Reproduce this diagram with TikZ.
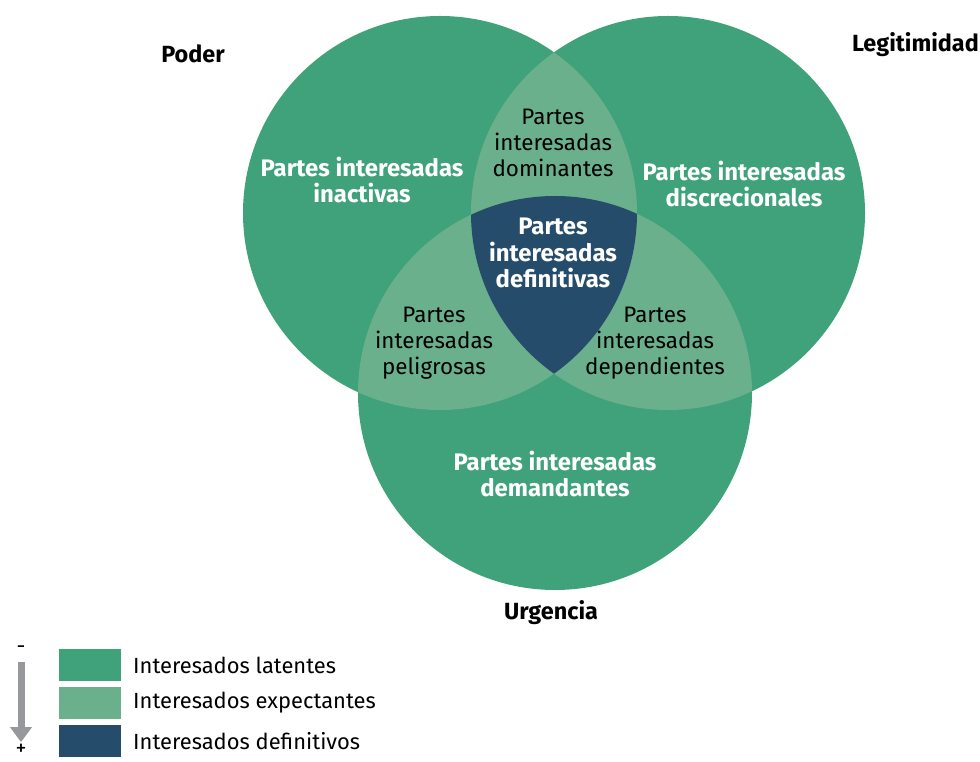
\documentclass[tikz,border=0pt]{standalone}
\usepackage{fontspec}
\setmainfont{Fira Sans}
\usetikzlibrary{arrows.meta}
\definecolor{latente}{RGB}{64,162,122}
\definecolor{expectante}{RGB}{106,176,140}
\definecolor{definitivo}{RGB}{38,76,108}
\definecolor{flecha}{RGB}{150,152,155}
\begin{document}
\begin{tikzpicture}[>=latex,line join=bevel,
    eje/.style={font=\bfseries\fontsize{23.5}{26}\selectfont,text=black},
    zona/.style={font=\bfseries\fontsize{24}{27}\selectfont,text=white,align=center},
    cruce/.style={font=\fontsize{22.5}{26}\selectfont,text=black,align=center},
    caja/.style={minimum width=62bp,minimum height=32bp,inner sep=0pt},
    leyenda/.style={font=\fontsize{22}{24}\selectfont,anchor=west,inner sep=0pt},
    signo/.style={font=\fontsize{22}{24}\selectfont,inner sep=0pt},
    ]
    \useasboundingbox (0bp,0bp) rectangle (980bp,762bp);
    %%
    \coordinate (cpoder) at (440.0bp,549.0bp);
    \coordinate (clegit) at (668.0bp,549.0bp);
    \coordinate (curgen) at (555.0bp,369.0bp);
    %
    \fill [latente] (cpoder) circle (197bp);
    \fill [latente] (clegit) circle (197bp);
    \fill [latente] (curgen) circle (197bp);
    \begin{scope}
      \clip (clegit) circle (197bp);
      \fill [expectante] (curgen) circle (197bp);
    \end{scope}
    \begin{scope}
      \clip (cpoder) circle (197bp);
      \fill [expectante] (clegit) circle (197bp);
      \fill [expectante] (curgen) circle (197bp);
      \clip (clegit) circle (197bp);
      \fill [definitivo] (curgen) circle (197bp);
    \end{scope}
    %%
    \node (poder) at (193.0bp,708.0bp) [eje] {Poder};
    \node (legit) at (979.0bp,717.0bp) [eje,anchor=east,inner xsep=0pt] {Legitimidad};
    \node (urgen) at (551.0bp,149.0bp) [eje] {Urgencia};
    %
    \node (inactivas) at (362.0bp,582.0bp) [zona] {Partes interesadas\\inactivas};
    \node (discrec) at (744.0bp,578.0bp) [zona] {Partes interesadas\\discrecionales};
    \node (demand) at (555.0bp,288.0bp) [zona] {Partes interesadas\\demandantes};
    \node (defin) at (553.0bp,509.0bp) [zona] {Partes\\interesadas\\definitivas};
    \node (domin) at (553.0bp,619.0bp) [cruce] {Partes\\interesadas\\dominantes};
    \node (peligr) at (434.0bp,419.0bp) [cruce] {Partes\\interesadas\\peligrosas};
    \node (depend) at (655.0bp,419.0bp) [cruce] {Partes\\interesadas\\dependientes};
    %%
    \node (menos) at (21.0bp,112.0bp) [signo] {-};
    \node (mas) at (21.0bp,12.0bp) [signo] {+};
    \draw [flecha,line width=7bp,-{Triangle[width=21bp,length=15bp]}] ([yshift=-8bp]menos.south) -- ([yshift=2bp]mas.north);
    %
    \node (blat) at (90.0bp,97.0bp) [caja,fill=latente] {};
    \node (bexp) at (90.0bp,59.0bp) [caja,fill=expectante] {};
    \node (bdef) at (90.0bp,21.0bp) [caja,fill=definitivo] {};
    \node (tlat) at (133.0bp,97.0bp) [leyenda] {Interesados latentes};
    \node (texp) at (133.0bp,59.0bp) [leyenda] {Interesados expectantes};
    \node (tdef) at (133.0bp,21.0bp) [leyenda] {Interesados definitivos};
    %
\end{tikzpicture}
\end{document}
